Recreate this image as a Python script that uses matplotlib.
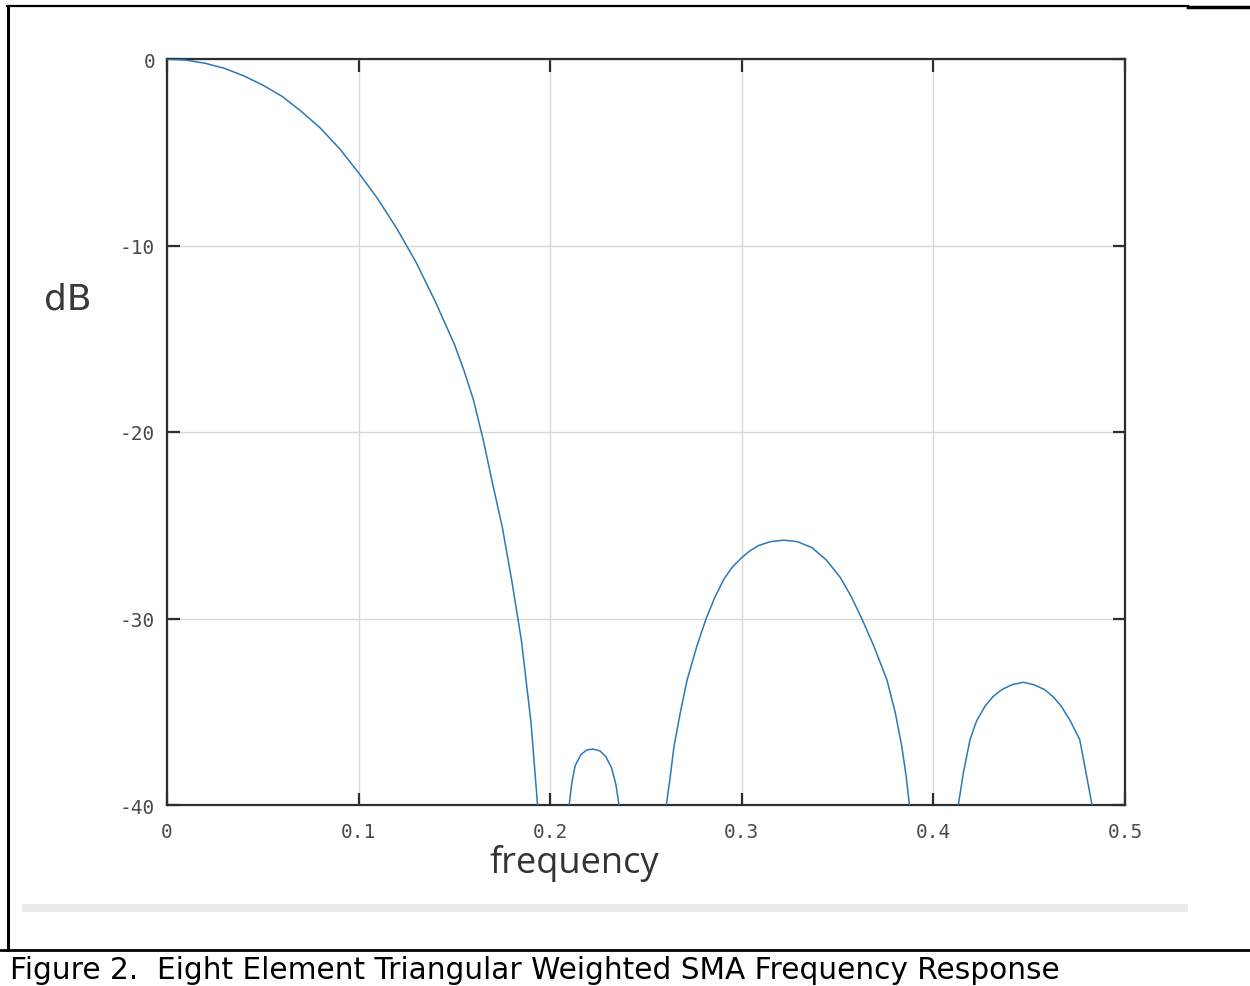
import numpy as np
import matplotlib
matplotlib.use("Agg")
import matplotlib.pyplot as plt
from matplotlib.lines import Line2D
from matplotlib.patches import Rectangle

# values (frequency, dB), one list per lobe
main_f = [0.0, 0.01, 0.02, 0.03, 0.04, 0.05, 0.06, 0.07, 0.08, 0.09, 0.10,
          0.11, 0.12, 0.13, 0.14, 0.15, 0.155, 0.16, 0.165, 0.17, 0.175,
          0.18, 0.185, 0.19, 0.1934]
main_db = [0.0, -0.06, -0.23, -0.5, -0.9, -1.4, -2.0, -2.8, -3.7, -4.8, -6.1,
           -7.5, -9.1, -10.9, -13.0, -15.3, -16.7, -18.3, -20.4, -22.8, -25.1,
           -28.0, -31.2, -35.6, -40.0]

lobe1_f = [0.2099, 0.2113, 0.2130, 0.2160, 0.2190, 0.2224, 0.2260, 0.2290,
           0.2320, 0.2343, 0.2359]
lobe1_db = [-40.0, -38.8, -37.9, -37.3, -37.05, -37.0, -37.1, -37.4,
            -38.0, -38.9, -40.0]

lobe2_f = [0.2606, 0.2625, 0.2646, 0.268, 0.2715, 0.2765, 0.2814, 0.286,
           0.2906, 0.295, 0.2998, 0.3045, 0.3089, 0.315, 0.3219, 0.329,
           0.3366, 0.344, 0.3514, 0.357, 0.3626, 0.369, 0.3757, 0.380,
           0.3835, 0.3857, 0.3875]
lobe2_db = [-40.0, -38.6, -36.86, -35.0, -33.28, -31.5, -30.0, -28.85,
            -27.9, -27.25, -26.75, -26.35, -26.08, -25.88, -25.8, -25.88,
            -26.2, -26.85, -27.8, -28.8, -30.0, -31.5, -33.28, -35.0,
            -36.86, -38.4, -40.0]

lobe3_f = [0.4130, 0.4156, 0.4191, 0.4225, 0.4269, 0.431, 0.4356, 0.441,
           0.4469, 0.4525, 0.4582, 0.4625, 0.4668, 0.4715, 0.4764, 0.4797,
           0.4828]
lobe3_db = [-40.0, -38.3, -36.5, -35.5, -34.71, -34.2, -33.82, -33.55,
            -33.42, -33.55, -33.82, -34.2, -34.71, -35.5, -36.5, -38.3,
            -40.0]

xticks = [0, 0.1, 0.2, 0.3, 0.4, 0.5]
xticklabels = ["0", "0.1", "0.2", "0.3", "0.4", "0.5"]
yticks = [0, -10, -20, -30, -40]
yticklabels = ["0", "-10", "-20", "-30", "-40"]

W, H = 1250, 987
fig = plt.figure(figsize=(W / 100, H / 100), dpi=100)
fig.patch.set_facecolor("white")


def fx(px):
    return px / W


def fy(py):
    return 1 - py / H


ax = fig.add_axes([fx(167), fy(806), fx(1125) - fx(167), fy(60) - fy(806)])
line_col = "#2a78b8"
for f, db in [(main_f, main_db), (lobe1_f, lobe1_db),
              (lobe2_f, lobe2_db), (lobe3_f, lobe3_db)]:
    ax.plot(f, db, color=line_col, lw=1.1, zorder=3)

ax.set_xlim(0, 0.5)
ax.set_ylim(-40, 0)
ax.set_xticks(xticks)
ax.set_xticklabels(xticklabels)
ax.set_yticks(yticks)
ax.set_yticklabels(yticklabels)
ax.grid(True, color="#d8d8d8", lw=1)
ax.set_axisbelow(True)
for s in ax.spines.values():
    s.set_color("#2e2e2e")
    s.set_linewidth(1.6)
ax.tick_params(direction="in", length=9, width=1.6, color="#2e2e2e",
               top=True, right=True, labelsize=14, labelcolor="#4a4a4a")
ax.tick_params(axis="y", pad=8.5)
ax.tick_params(axis="x", pad=12)
for lab in ax.get_xticklabels() + ax.get_yticklabels():
    lab.set_family("DejaVu Sans Mono")

# axis labels placed where the reference has them
fig.text(fx(68), fy(310), "dB", fontsize=26, color="#3a3a3a",
         family="DejaVu Sans", ha="center", va="baseline")
fig.text(fx(574), fy(873), "frequency", fontsize=26, color="#333333",
         family="Open Sans", ha="center", va="baseline")

# page decoration: frame, grey strip, caption rule and caption
fig.add_artist(Line2D([fx(7), fx(1188)], [fy(7), fy(7)], color="black", lw=1.6))
fig.add_artist(Line2D([fx(1188), fx(1250)], [fy(8), fy(8)], color="black", lw=2.5))
fig.add_artist(Line2D([fx(8), fx(8)], [fy(7), fy(951)], color="black", lw=2.2))
fig.add_artist(Line2D([fx(0), fx(1250)], [fy(951), fy(951)], color="black", lw=2.0))
fig.add_artist(Rectangle((fx(22), fy(913)), fx(1188) - fx(22), fy(905) - fy(913),
                         transform=fig.transFigure, color="#ebebeb", lw=0))
fig.text(fx(10), fy(979), "Figure 2.  Eight Element Triangular Weighted SMA Frequency Response",
         fontsize=21.3, color="black", family="DejaVu Sans", ha="left", va="baseline")

fig.savefig("out.png", dpi=100)
